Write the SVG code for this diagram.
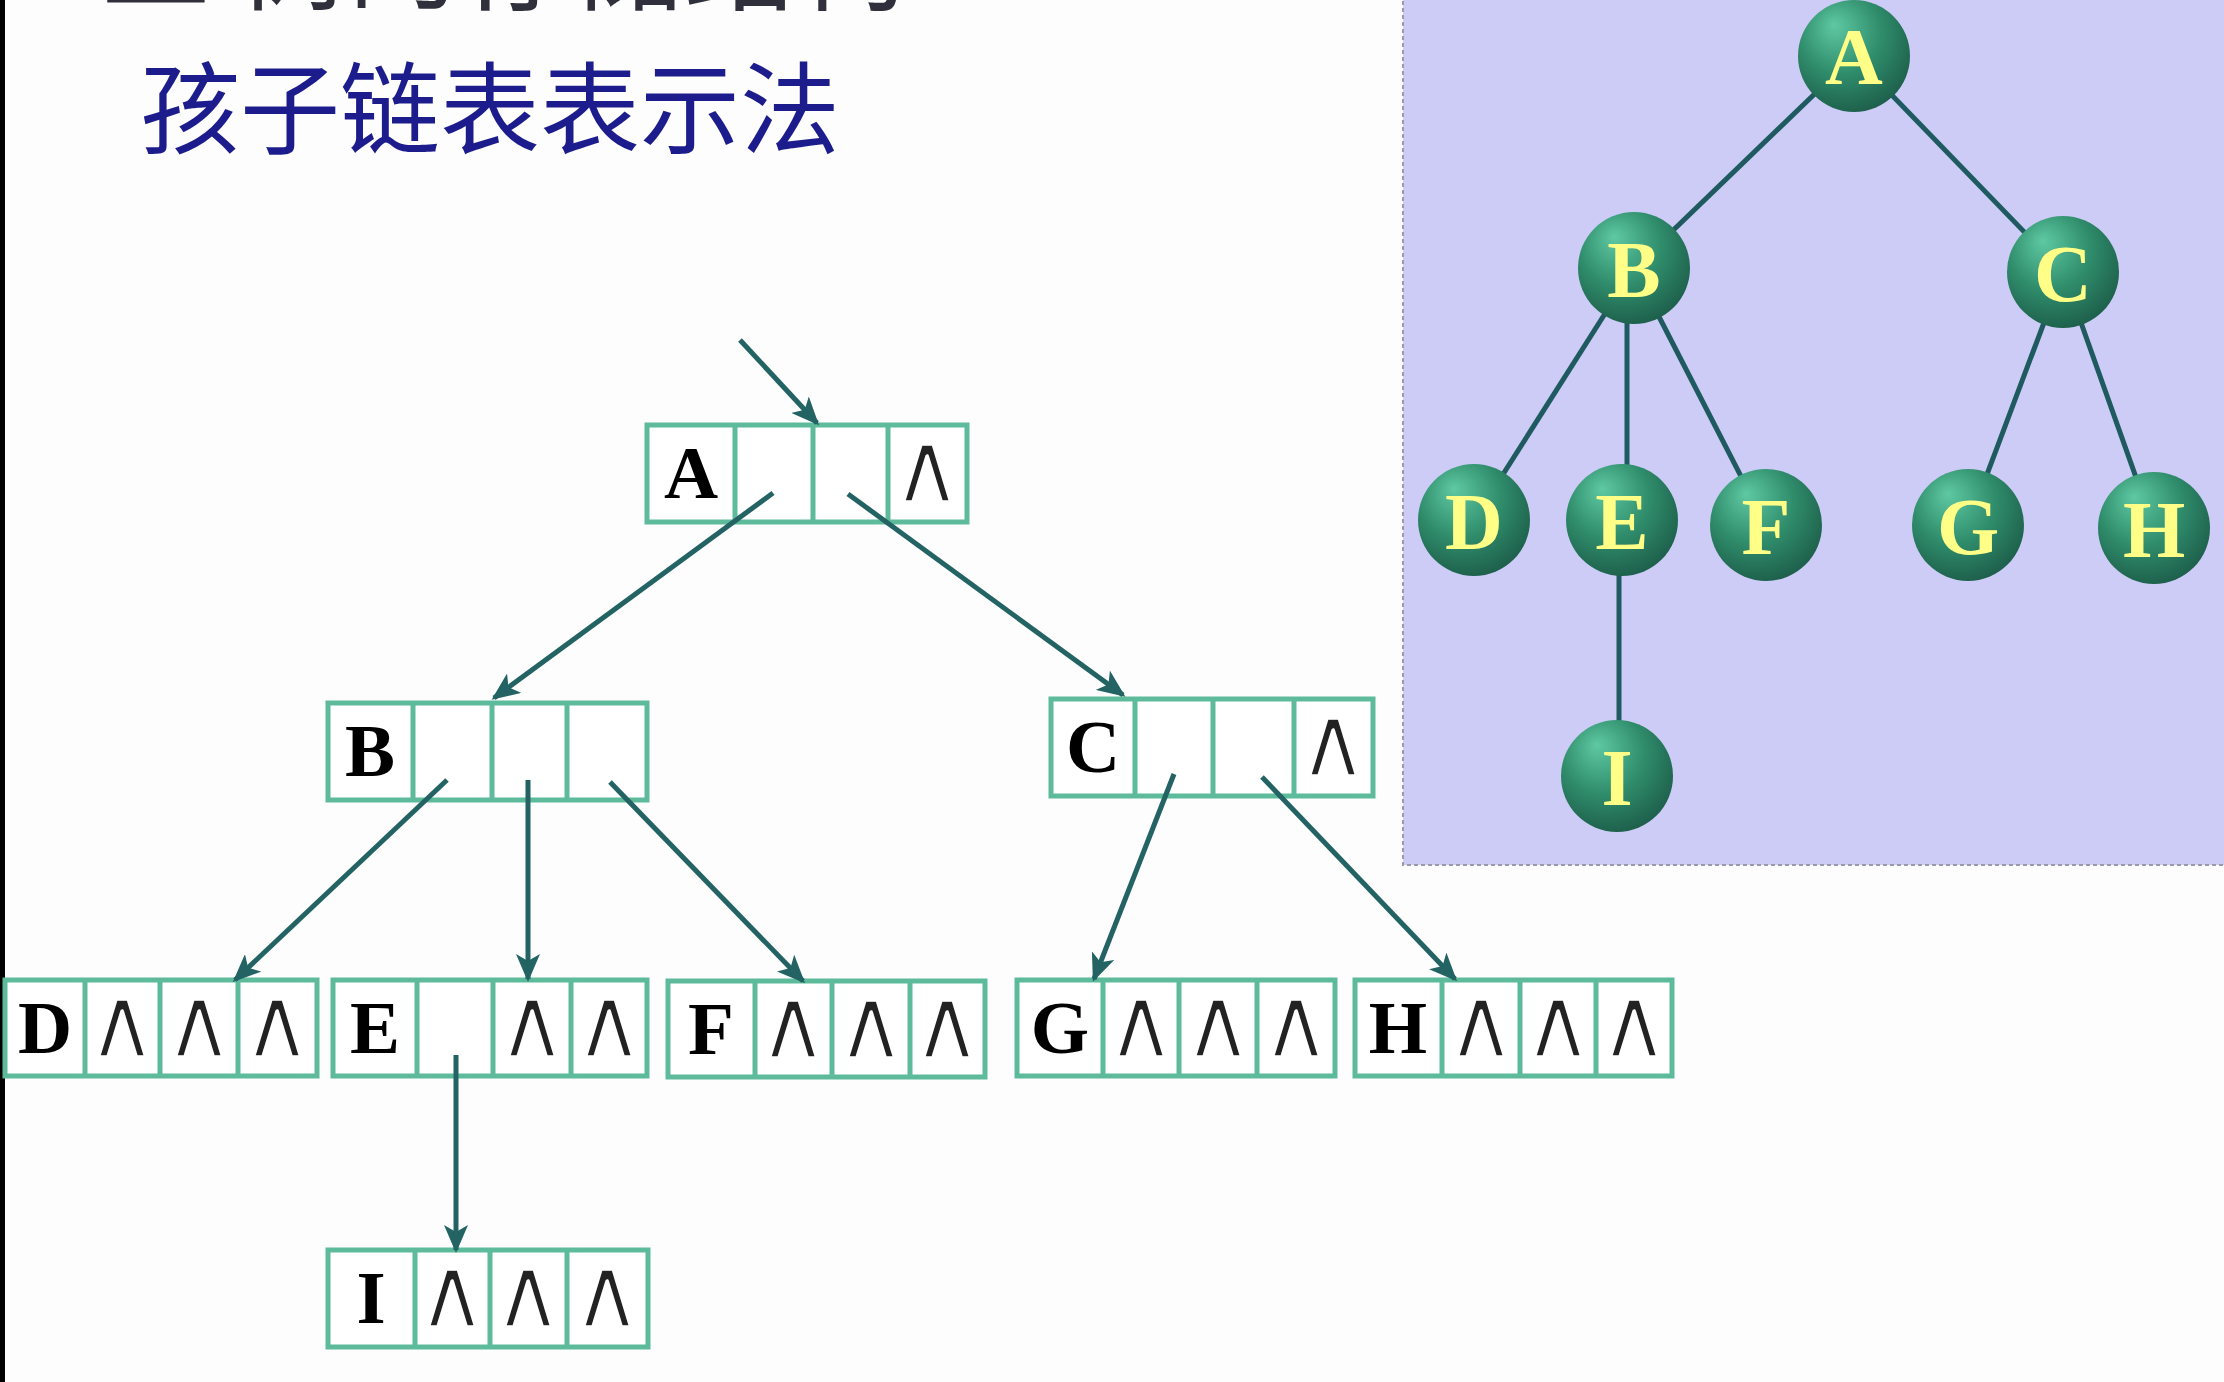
<svg xmlns="http://www.w3.org/2000/svg" width="2224" height="1382" viewBox="0 0 2224 1382">
<style>
.box{fill:#fefffe;stroke:#5dbb9c;stroke-width:5}
.div{stroke:#5dbb9c;stroke-width:5}
.lbl{font-family:"Liberation Serif","Times New Roman",serif;font-weight:bold;font-size:75px;fill:#000;text-anchor:middle}
.nil{font-family:"DejaVu Sans","Liberation Sans",sans-serif;font-size:100px;fill:#222;stroke:#fefffe;stroke-width:3.5;stroke-linejoin:round;text-anchor:middle}
.arr{stroke:#236363;stroke-width:5;fill:none;marker-end:url(#ah)}
.edge{stroke:#1f5a60;stroke-width:5}
.ball{fill:url(#ball)}
.tl{font-family:"Liberation Serif","Times New Roman",serif;font-weight:bold;font-size:80px;fill:#ffff88;text-anchor:middle}
.title{font-family:"Noto Sans CJK SC",sans-serif;font-size:100px;fill:#1c1c8c}
.top{font-family:"Noto Sans CJK SC",sans-serif;font-size:112px;fill:#30303c}
</style>
<defs>
<marker id="ah" viewBox="0 0 28 24" markerWidth="28" markerHeight="24" refX="25" refY="12" orient="auto" markerUnits="userSpaceOnUse">
<path d="M0,0 L28,12 L0,24 L7,12 z" fill="#236363"/>
</marker>
<radialGradient id="ball" cx="0.42" cy="0.35" r="0.68" fx="0.32" fy="0.22">
<stop offset="0" stop-color="#5ec9a2"/>
<stop offset="0.55" stop-color="#2f8c6b"/>
<stop offset="1" stop-color="#1d5e4a"/>
</radialGradient>
</defs>
<rect x="0" y="0" width="2224" height="1382" fill="#fefdfe"/>
<rect x="0" y="0" width="5" height="1382" fill="#000"/>

<text class="top" x="100" y="2">三<tspan x="236">树的存储结构</tspan></text>
<text class="title" x="140" y="146">孩子链表表示法</text>

<!-- tree panel -->
<g id="panel">
<rect x="1403" y="-10" width="830" height="875" fill="#ccccf7" stroke="#9a9aa8" stroke-width="2" stroke-dasharray="4 3"/>
</g>
<g id="tree-edges">
<line class="edge" x1="1854" y1="56" x2="1634" y2="268"/>
<line class="edge" x1="1854" y1="56" x2="2063" y2="272"/>
<line class="edge" x1="1634" y1="268" x2="1474" y2="520"/>
<line class="edge" x1="1627" y1="268" x2="1627" y2="520"/>
<line class="edge" x1="1634" y1="268" x2="1766" y2="525"/>
<line class="edge" x1="2063" y1="272" x2="1968" y2="525"/>
<line class="edge" x1="2063" y1="272" x2="2154" y2="528"/>
<line class="edge" x1="1619" y1="520" x2="1619" y2="776"/>
</g>
<g id="tA"><circle class="ball" cx="1854" cy="56" r="56"/><text class="tl" x="1854" y="84">A</text></g>
<g id="tB"><circle class="ball" cx="1634" cy="268" r="56"/><text class="tl" x="1634" y="297">B</text></g>
<g id="tC"><circle class="ball" cx="2063" cy="272" r="56"/><text class="tl" x="2063" y="301">C</text></g>
<g id="tD"><circle class="ball" cx="1474" cy="520" r="56"/><text class="tl" x="1474" y="549">D</text></g>
<g id="tE"><circle class="ball" cx="1622" cy="520" r="56"/><text class="tl" x="1622" y="549">E</text></g>
<g id="tF"><circle class="ball" cx="1766" cy="525" r="56"/><text class="tl" x="1766" y="554">F</text></g>
<g id="tG"><circle class="ball" cx="1968" cy="525" r="56"/><text class="tl" x="1968" y="554">G</text></g>
<g id="tH"><circle class="ball" cx="2154" cy="528" r="56"/><text class="tl" x="2154" y="557">H</text></g>
<g id="tI"><circle class="ball" cx="1617" cy="776" r="56"/><text class="tl" x="1617" y="805">I</text></g>

<!-- child-list nodes -->
<g id="nA">
<rect class="box" x="647" y="425" width="320" height="97"/>
<line class="div" x1="735" y1="425" x2="735" y2="522"/><line class="div" x1="813" y1="425" x2="813" y2="522"/><line class="div" x1="888" y1="425" x2="888" y2="522"/>
<text class="lbl" x="691" y="498">A</text><text class="nil" x="927" y="502">∧</text>
</g>
<g id="nB">
<rect class="box" x="328" y="703" width="319" height="97"/>
<line class="div" x1="413" y1="703" x2="413" y2="800"/><line class="div" x1="492" y1="703" x2="492" y2="800"/><line class="div" x1="567" y1="703" x2="567" y2="800"/>
<text class="lbl" x="370" y="776">B</text>
</g>
<g id="nC">
<rect class="box" x="1051" y="699" width="322" height="97"/>
<line class="div" x1="1135" y1="699" x2="1135" y2="796"/><line class="div" x1="1213" y1="699" x2="1213" y2="796"/><line class="div" x1="1294" y1="699" x2="1294" y2="796"/>
<text class="lbl" x="1093" y="772">C</text><text class="nil" x="1333" y="776">∧</text>
</g>
<g id="nD">
<rect class="box" x="5" y="980" width="312" height="96"/>
<line class="div" x1="85" y1="980" x2="85" y2="1076"/><line class="div" x1="160" y1="980" x2="160" y2="1076"/><line class="div" x1="238" y1="980" x2="238" y2="1076"/>
<text class="lbl" x="45" y="1053">D</text><text class="nil" x="122" y="1057">∧</text><text class="nil" x="199" y="1057">∧</text><text class="nil" x="277" y="1057">∧</text>
</g>
<g id="nE">
<rect class="box" x="333" y="980" width="314" height="96"/>
<line class="div" x1="417" y1="980" x2="417" y2="1076"/><line class="div" x1="493" y1="980" x2="493" y2="1076"/><line class="div" x1="571" y1="980" x2="571" y2="1076"/>
<text class="lbl" x="375" y="1053">E</text><text class="nil" x="532" y="1057">∧</text><text class="nil" x="609" y="1057">∧</text>
</g>
<g id="nF">
<rect class="box" x="668" y="981" width="317" height="96"/>
<line class="div" x1="755" y1="981" x2="755" y2="1077"/><line class="div" x1="832" y1="981" x2="832" y2="1077"/><line class="div" x1="910" y1="981" x2="910" y2="1077"/>
<text class="lbl" x="711" y="1054">F</text><text class="nil" x="793" y="1058">∧</text><text class="nil" x="871" y="1058">∧</text><text class="nil" x="947" y="1058">∧</text>
</g>
<g id="nG">
<rect class="box" x="1017" y="980" width="318" height="96"/>
<line class="div" x1="1103" y1="980" x2="1103" y2="1076"/><line class="div" x1="1179" y1="980" x2="1179" y2="1076"/><line class="div" x1="1257" y1="980" x2="1257" y2="1076"/>
<text class="lbl" x="1060" y="1053">G</text><text class="nil" x="1141" y="1057">∧</text><text class="nil" x="1218" y="1057">∧</text><text class="nil" x="1296" y="1057">∧</text>
</g>
<g id="nH">
<rect class="box" x="1355" y="980" width="317" height="96"/>
<line class="div" x1="1442" y1="980" x2="1442" y2="1076"/><line class="div" x1="1520" y1="980" x2="1520" y2="1076"/><line class="div" x1="1596" y1="980" x2="1596" y2="1076"/>
<text class="lbl" x="1398" y="1053">H</text><text class="nil" x="1481" y="1057">∧</text><text class="nil" x="1558" y="1057">∧</text><text class="nil" x="1634" y="1057">∧</text>
</g>
<g id="nI">
<rect class="box" x="328" y="1250" width="320" height="97"/>
<line class="div" x1="415" y1="1250" x2="415" y2="1347"/><line class="div" x1="490" y1="1250" x2="490" y2="1347"/><line class="div" x1="567" y1="1250" x2="567" y2="1347"/>
<text class="lbl" x="371" y="1323">I</text><text class="nil" x="452" y="1327">∧</text><text class="nil" x="528" y="1327">∧</text><text class="nil" x="607" y="1327">∧</text>
</g>

<g id="connectors">
<line class="arr" x1="740" y1="340" x2="817" y2="423"/>
<line class="arr" x1="773" y1="493" x2="494" y2="698"/>
<line class="arr" x1="848" y1="494" x2="1123" y2="695"/>
<line class="arr" x1="447" y1="780" x2="235" y2="980"/>
<line class="arr" x1="528" y1="780" x2="528" y2="979"/>
<line class="arr" x1="610" y1="782" x2="803" y2="981"/>
<line class="arr" x1="1174" y1="774" x2="1094" y2="979"/>
<line class="arr" x1="1262" y1="777" x2="1455" y2="979"/>
<line class="arr" x1="456" y1="1055" x2="456" y2="1250"/>
</g>
</svg>
